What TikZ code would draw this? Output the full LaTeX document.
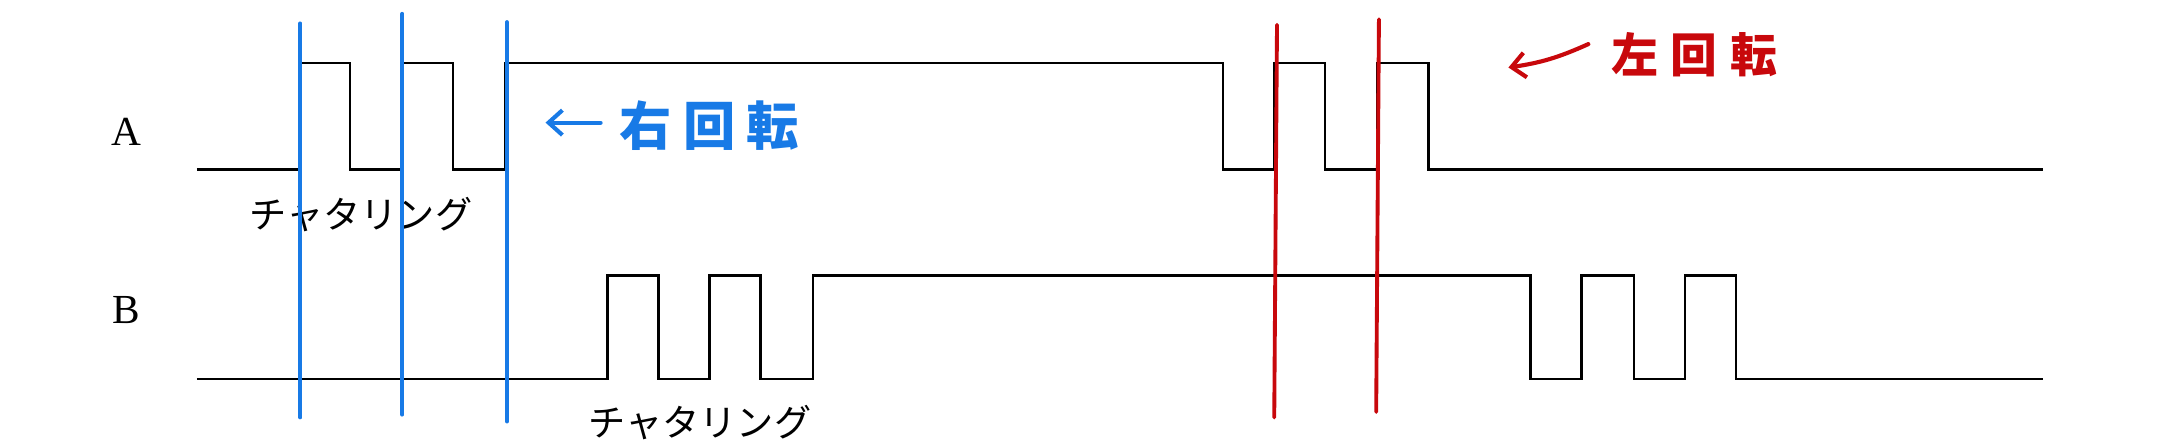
\documentclass[tikz,border=0pt]{standalone}
\usepackage{fontspec}
\setmainfont{Liberation Serif}
\newfontfamily\jp{Noto Sans CJK JP}
\usetikzlibrary{arrows.meta}
\definecolor{penblue}{RGB}{24,122,230}
\definecolor{penred}{RGB}{200,8,12}
\tikzset{
  sig/.style={line width=1.6pt, line join=miter},
  cursorA/.style={penblue, line width=2.8pt, line cap=round},
  cursorB/.style={penred, line width=2.8pt, line cap=round},
  lbl/.style={font=\fontsize{30}{32}\selectfont, inner sep=0pt},
  chat/.style={font=\jp\fontsize{27}{30}\selectfont, inner sep=0pt},
  handB/.style={font=\jp\bfseries\fontsize{38}{40}\selectfont, inner sep=0pt, text=penblue},
  handR/.style={font=\jp\bfseries\fontsize{34}{36}\selectfont, inner sep=0pt, text=penred},
}
\begin{document}
\begin{tikzpicture}[x=1pt,y=-1pt]
\useasboundingbox (0,0) rectangle (1568,325);
% labels
\node[lbl] (labA) at (92,96) {A};
\node[lbl] (labB) at (92,225) {B};
% signal A
\draw[sig] (143,123) -- (218,123) -- (218,46) -- (254,46) -- (254,123) -- (291,123) -- (291,46) -- (329,46) -- (329,123) -- (367,123) -- (367,46) -- (888,46) -- (888,123) -- (925,123) -- (925,46) -- (962,46) -- (962,123) -- (1000,123) -- (1000,46) -- (1037,46) -- (1037,123) -- (1483,123);
% signal B
\draw[sig] (143,275) -- (441,275) -- (441,200) -- (478,200) -- (478,275) -- (515,275) -- (515,200) -- (552,200) -- (552,275) -- (590,275) -- (590,200) -- (1111,200) -- (1111,275) -- (1148,275) -- (1148,200) -- (1186,200) -- (1186,275) -- (1223,275) -- (1223,200) -- (1260,200) -- (1260,275) -- (1483,275);
% chattering labels
\node[chat] (chatA) at (262,156) {チャタリング};
\node[chat] (chatB) at (508,307) {チャタリング};
% blue cursors
\draw[cursorA] (218,17) -- (218,303);
\draw[cursorA] (292,10) -- (292,301);
\draw[cursorA] (368,16) -- (368,306);
% red cursors
\draw[cursorB] (927,18) -- (925,303);
\draw[cursorB] (1001,14) -- (999,299);
% blue note
\node[handB] (rightrot) at (515,91) {右\hspace{8pt}回\hspace{8pt}転};
\coordinate (bArrS) at (436,89);
\coordinate (bArrE) at (396,89);
\draw[penblue, line width=3pt, line cap=round, -{Straight Barb[length=10pt,width=18pt,line width=3pt]}] (bArrS) -- (bArrE);
% red note
\node[handR] (leftrot) at (1230,40) {左\hspace{9pt}回\hspace{9pt}転};
\coordinate (rArrS) at (1153,32);
\coordinate (rArrE) at (1095,49);
\draw[penred, line width=3pt, line cap=round, -{Straight Barb[length=10pt,width=18pt,line width=3pt]}] (rArrS) to[bend left=8] (rArrE);
\end{tikzpicture}
\end{document}
